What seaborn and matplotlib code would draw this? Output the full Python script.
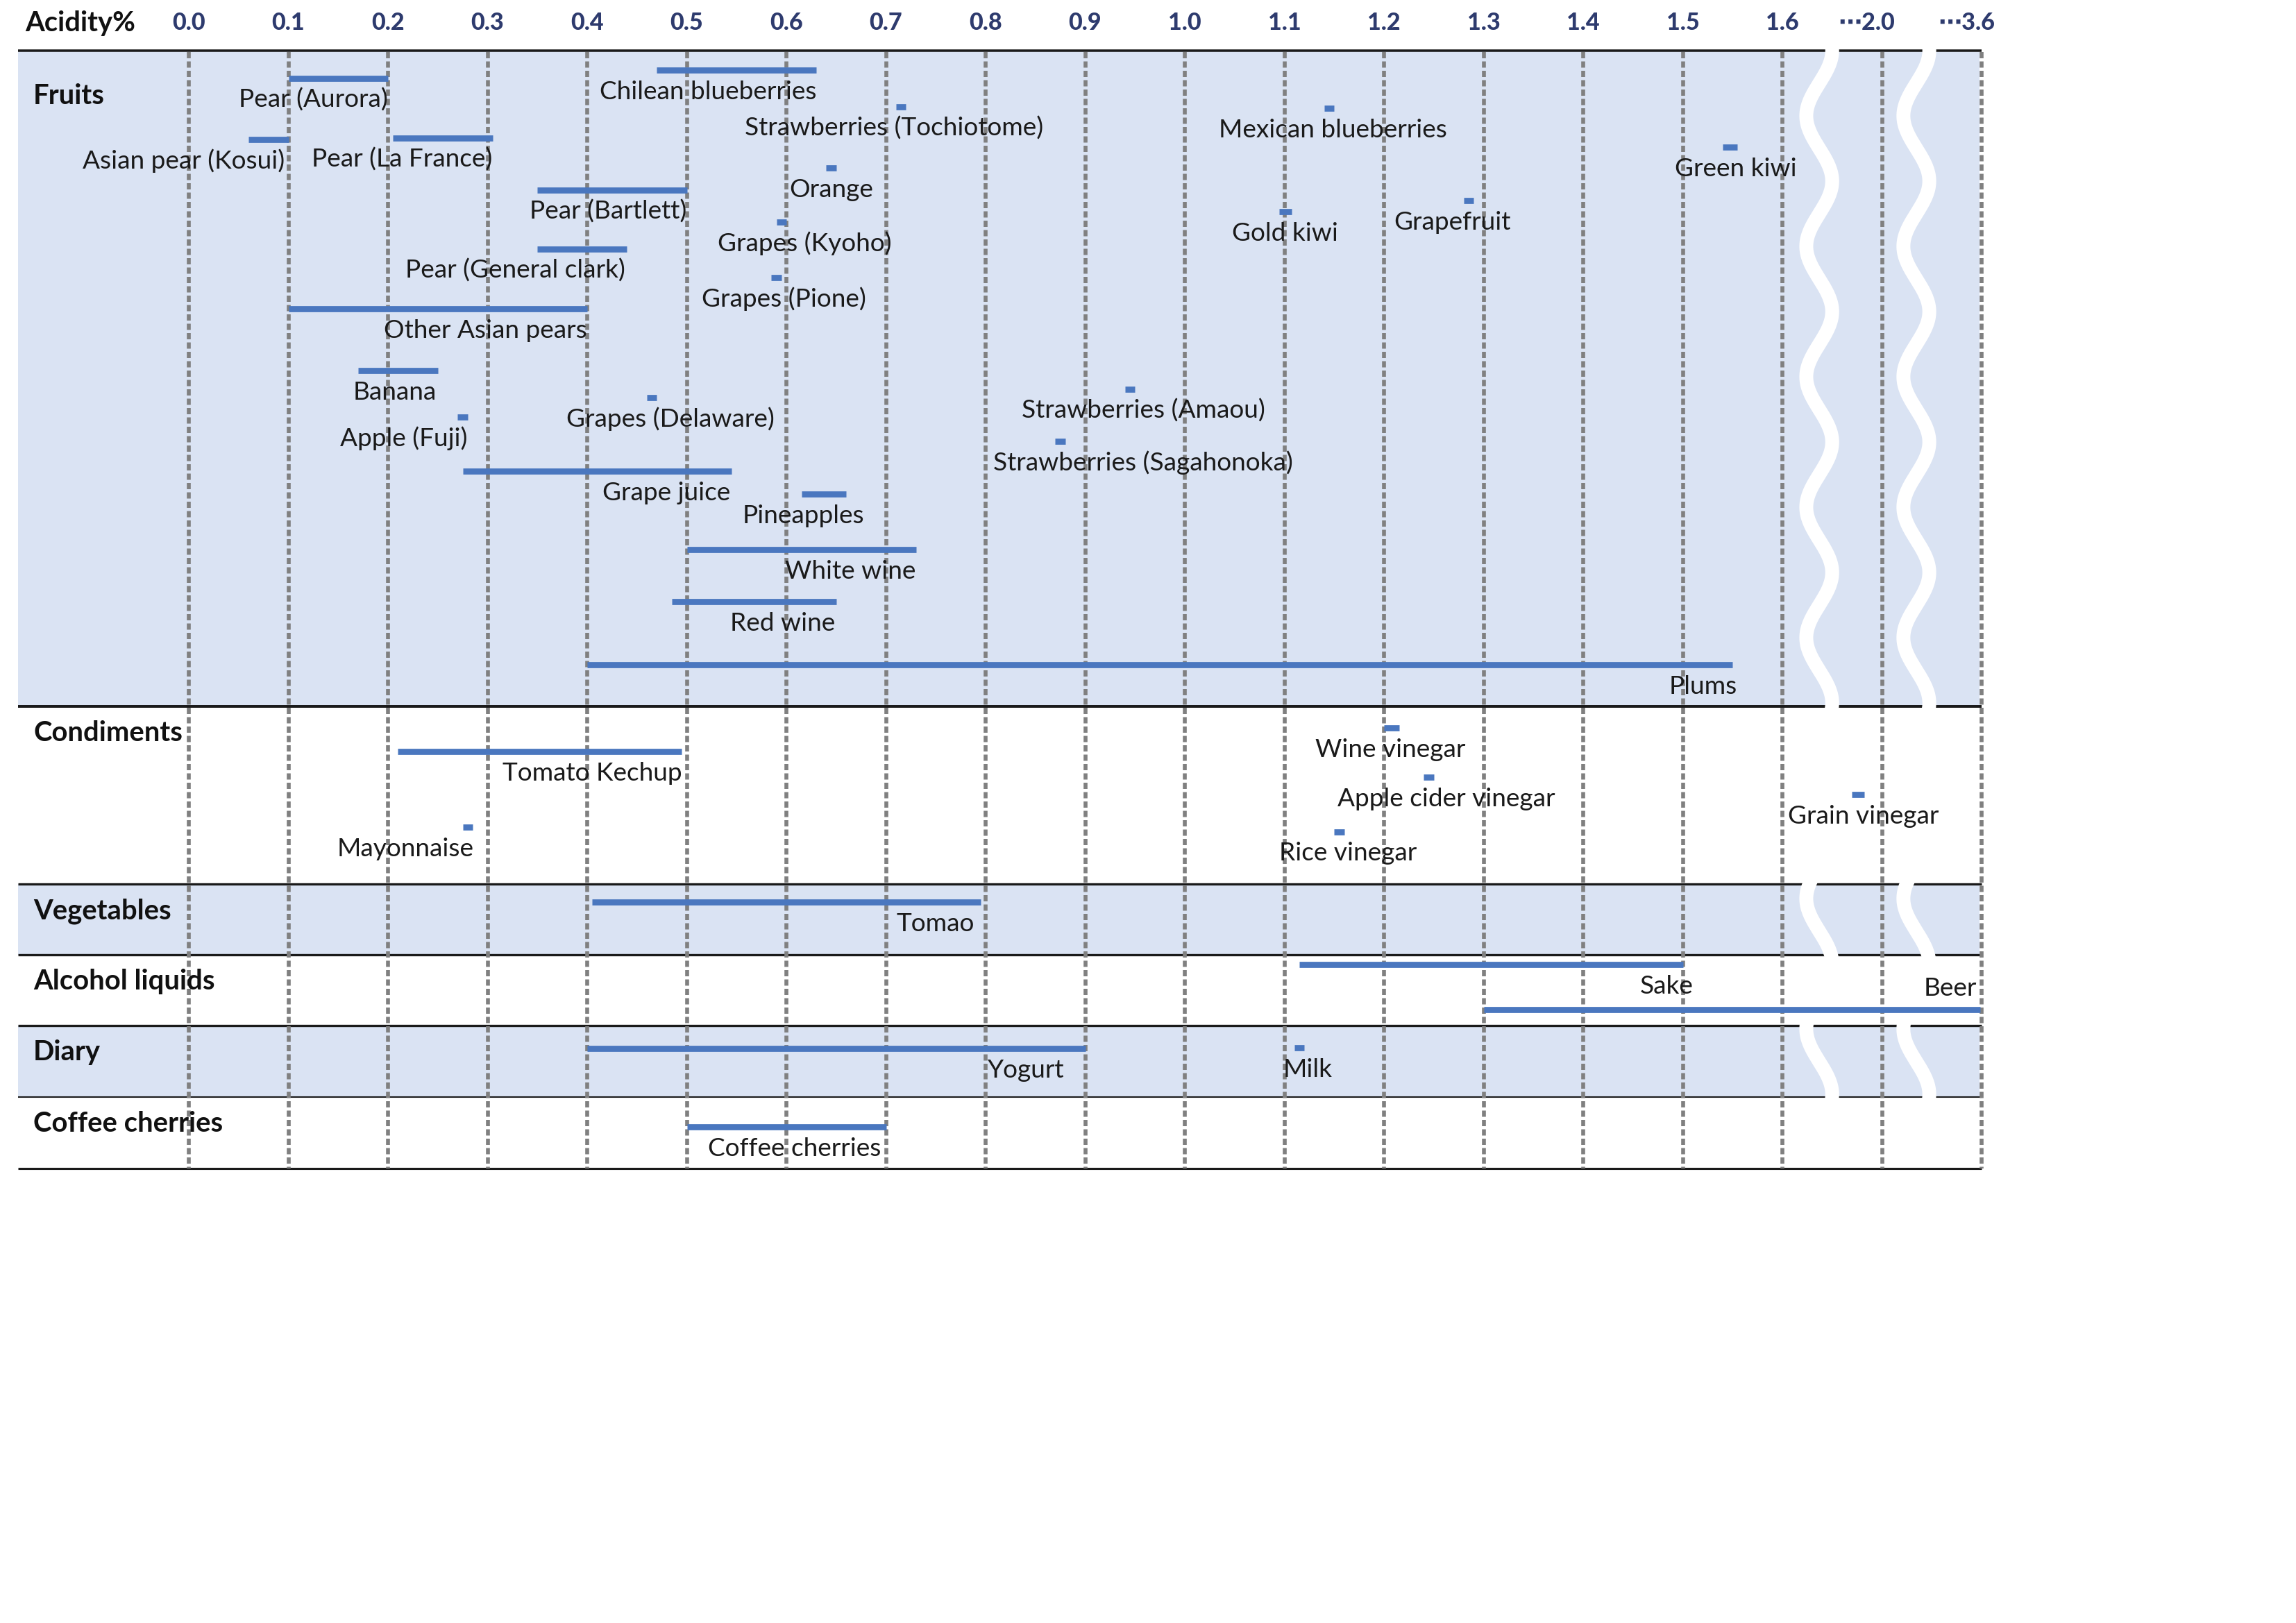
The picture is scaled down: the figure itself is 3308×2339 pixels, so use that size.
import numpy as np
import pandas as pd
import matplotlib.pyplot as plt
import seaborn as sns

sns.set_theme(style="white")
plt.rcParams['font.family'] = ['Lato', 'DejaVu Sans']

# Row groups, top to bottom (vertical extent in lane units)
groups = ['Fruits', 'Condiments', 'Vegetables', 'Alcohol liquids', 'Diary', 'Coffee cherries']
group_top = [0.0, 9.45, 12.01, 13.03, 14.05, 15.08]
group_bottom = [9.45, 12.01, 13.03, 14.05, 15.08, 16.11]
group_shaded = [True, False, True, False, True, False]

# Acidity ranges (%) of each food
names = [
    'Chilean blueberries', 'Pear (Aurora)', 'Strawberries (Tochiotome)', 'Mexican blueberries',
    'Asian pear (Kosui)', 'Pear (La France)', 'Green kiwi', 'Orange', 'Pear (Bartlett)',
    'Grapefruit', 'Gold kiwi', 'Grapes (Kyoho)', 'Pear (General clark)', 'Grapes (Pione)',
    'Other Asian pears', 'Banana', 'Strawberries (Amaou)', 'Grapes (Delaware)', 'Apple (Fuji)',
    'Strawberries (Sagahonoka)', 'Grape juice', 'Pineapples', 'White wine', 'Red wine', 'Plums',
    'Wine vinegar', 'Tomato Kechup', 'Apple cider vinegar', 'Grain vinegar', 'Mayonnaise',
    'Rice vinegar',
    'Tomao',
    'Sake', 'Beer',
    'Yogurt', 'Milk',
    'Coffee cherries',
]
group_of = ['Fruits'] * 25 + ['Condiments'] * 6 + ['Vegetables'] + ['Alcohol liquids'] * 2 \
    + ['Diary'] * 2 + ['Coffee cherries']
low = [0.47, 0.10, 0.71, 1.14, 0.06, 0.205, 1.54, 0.64, 0.35, 1.28, 1.095, 0.59, 0.35, 0.585,
       0.10, 0.17, 0.94, 0.46, 0.27, 0.87, 0.275, 0.615, 0.50, 0.485, 0.40,
       1.20, 0.21, 1.24, 1.88, 0.275, 1.15,
       0.405,
       1.115, 1.30,
       0.40, 1.11,
       0.50]
high = [0.63, 0.20, 0.72, 1.15, 0.10, 0.305, 1.555, 0.65, 0.50, 1.29, 1.107, 0.60, 0.44, 0.595,
        0.40, 0.25, 0.95, 0.47, 0.28, 0.88, 0.545, 0.66, 0.73, 0.65, 1.55,
        1.215, 0.495, 1.25, 1.93, 0.285, 1.16,
        0.795,
        1.50, 3.58,
        0.90, 1.12,
        0.70]
lane = [0.28, 0.40, 0.81, 0.83, 1.28, 1.26, 1.39, 1.69, 2.01, 2.16, 2.32, 2.47, 2.86, 3.27,
        3.72, 4.61, 4.88, 5.00, 5.28, 5.63, 6.06, 6.39, 7.19, 7.94, 8.85,
        9.76, 10.10, 10.47, 10.72, 11.19, 11.255,
        12.27,
        13.17, 13.82,
        14.38, 14.37,
        15.51]

# Top axis (broken after 1.6)
tick_values = [0.0, 0.1, 0.2, 0.3, 0.4, 0.5, 0.6, 0.7, 0.8, 0.9, 1.0, 1.1, 1.2, 1.3, 1.4, 1.5,
               1.6, 2.0, 3.6]
tick_labels = ['0.0', '0.1', '0.2', '0.3', '0.4', '0.5', '0.6', '0.7', '0.8', '0.9', '1.0',
               '1.1', '1.2', '1.3', '1.4', '1.5', '1.6', '\u22ef2.0', '\u22ef3.6']

# Label placement (anchor and pixel nudge)
label_ha = ['right', 'right', 'center', 'center', 'right', 'right', 'center', 'center', 'right',
            'center', 'center', 'center', 'right', 'center', 'right', 'right', 'center', 'center',
            'right', 'center', 'right', 'right', 'right', 'right', 'right',
            'center', 'right', 'center', 'center', 'right', 'center',
            'right',
            'right', 'right',
            'right', 'center',
            'right']
label_dx = [0, 0, -10, 5, -5, 0, 8, 0, 0, -24, 0, 33, -3, 11, 0, -2, 19, 27, 0, 119, -2, 26, 0,
            -2, 7,
            -2, 0, 25, 7, 2, 13,
            -9,
            15, -5,
            -30, 12,
            -7]
label_above = [n == 'Beer' for n in names]

BAR = '#4A77BF'
SHADE = '#DAE3F3'
GRID = '#808080'
TICK = '#2E3B6E'

def to_axis(v):
    # piecewise scale: 0-1.6 linear, then compressed 1.6-2.0 and 2.0-3.6
    return np.interp(v, [0.0, 1.6, 2.0, 3.6], [0.0, 16.0, 17.0, 18.0])

df = pd.DataFrame({'name': names, 'group': group_of, 'low': low, 'high': high, 'lane': lane,
                   'ha': label_ha, 'dx': label_dx, 'above': label_above})
df['x0'] = to_axis(df['low'])
df['x1'] = to_axis(df['high'])

W, H, DPI = 3308, 2339, 300
fig = plt.figure(figsize=(W / DPI, H / DPI), dpi=DPI)
ax = fig.add_axes([0, 0, 1, 1])
px = 143.5  # pixels per 0.1 step
ax.set_xlim(-272 / px, (W - 272) / px)
ax.set_ylim((H - 73) / 100, -73 / 100)
ax.axis('off')

left, right = -246 / px, 18.0
bottom = group_bottom[-1]

# row shading and separators
for g, top, bot, sh in zip(groups, group_top, group_bottom, group_shaded):
    if sh:
        ax.fill_between([left, right - 0.02], top, bot, color=SHADE, lw=0, zorder=0)
sep_y = [0.0] + group_bottom
sep_w = [0.85, 0.95, 0.8, 0.8, 0.8, 0.5, 0.75]
for y, lw in zip(sep_y, sep_w):
    ax.plot([left, right], [y, y], color='#1A1A1A', lw=lw, solid_capstyle='butt', zorder=1)

# axis-break waves
yy = np.linspace(-0.1, 15.2, 600)
for xc in [16.37, 17.345]:
    ax.plot(xc - 0.13 * np.cos(2 * np.pi * (yy - 0.94) / 1.88), yy, color='white', lw=4.8,
            zorder=2, solid_capstyle='butt')

# vertical dashed gridlines and tick labels
for v, lab in zip(tick_values, tick_labels):
    x = to_axis(v)
    ax.plot([x, x], [0.02, bottom], color=GRID, lw=1.35, dashes=(1.6, 0.8), zorder=3)
    ax.annotate(lab, (x, -0.40), xytext=(-22 if lab.startswith('\u22ef') else 0, 0),
                textcoords='offset pixels', ha='center', va='center', fontsize=8.2,
                fontweight='black', color=TICK)
ax.text(36 / px - 272 / px, -0.40, 'Acidity%', ha='left', va='center', fontsize=9.6,
        fontweight='bold', color='#111111')

# group titles
for g, top in zip(groups, group_top):
    dy = 0.77 if g == 'Fruits' else 0.5
    ax.text((48 - 272) / px, top + dy, g, ha='left', va='baseline', fontsize=9.6,
            fontweight='bold', color='#111111', zorder=5)

# acidity ranges
ax.hlines(df['lane'], df['x0'], df['x1'], color=BAR, lw=2.1, capstyle='butt', zorder=4)

for _, r in df.iterrows():
    ax_x = r['x1'] if r['ha'] == 'right' else (r['x0'] + r['x1']) / 2
    ty = r['lane'] - 0.20 if r['above'] else r['lane'] + 0.42
    ax.annotate(r['name'], (ax_x, ty), xytext=(r['dx'], 0), textcoords='offset pixels',
                ha=r['ha'], va='baseline', fontsize=8.9, color='#1A1A1A', zorder=5)

fig.savefig('out.png', dpi=DPI)
